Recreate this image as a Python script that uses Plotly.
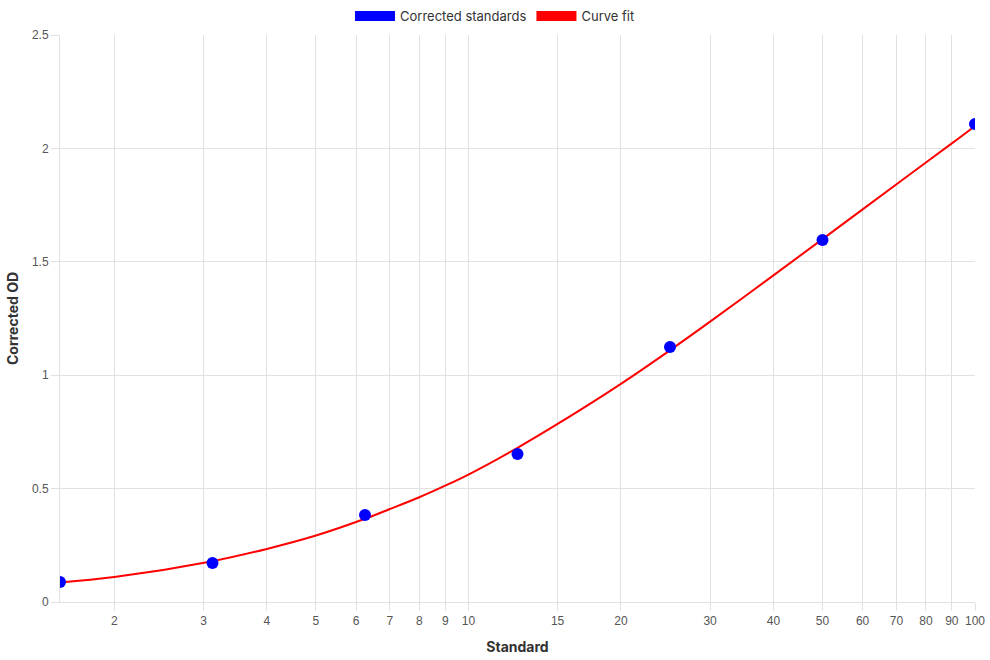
import plotly.graph_objects as go

# Data
std_x = [1.5625, 3.125, 6.25, 12.5, 25, 50, 100]
std_y = [0.088, 0.172, 0.384, 0.653, 1.124, 1.596, 2.108]

fit_x = [1.5625, 2, 3.125, 4, 5, 6.25, 7, 8, 9, 10, 12.5, 15, 20, 25, 30, 40, 50, 60, 70, 80, 90, 100]
fit_y = [0.086, 0.110, 0.180, 0.234, 0.293, 0.367, 0.410, 0.462, 0.513, 0.562, 0.680, 0.785, 0.962,
         1.110, 1.236, 1.440, 1.600, 1.731, 1.842, 1.938, 2.022, 2.099]

x_ticks = [2, 3, 4, 5, 6, 7, 8, 9, 10, 15, 20, 30, 40, 50, 60, 70, 80, 90, 100]
y_ticks = [0, 0.5, 1, 1.5, 2, 2.5]

grid = "#e1e1e1"
tick_font = dict(family="Liberation Sans, Arial, sans-serif", size=12, color="#555555")
title_font = dict(family="Inter, Open Sans, sans-serif", size=14, color="#333333")

fig = go.Figure()
fig.add_trace(go.Scatter(x=fit_x, y=fit_y, mode="lines", line=dict(color="red", width=2, shape="spline"),
                         showlegend=False, hoverinfo="skip"))
fig.add_trace(go.Scatter(x=std_x, y=std_y, mode="markers", marker=dict(color="blue", size=12),
                         showlegend=False))
# legend entries (box style)
fig.add_trace(go.Scatter(x=[None], y=[None], mode="lines", name="Corrected standards",
                         line=dict(color="blue", width=12)))
fig.add_trace(go.Scatter(x=[None], y=[None], mode="lines", name="Curve fit",
                         line=dict(color="red", width=12)))

fig.update_layout(
    width=990, height=660,
    margin=dict(l=60, r=15, t=35, b=58, autoexpand=False),
    paper_bgcolor="white", plot_bgcolor="white",
    legend=dict(orientation="h", x=0.5, xanchor="center", xref="container",
                y=1 - 16 / 660, yanchor="middle", yref="container",
                font=dict(family="Inter, Open Sans, sans-serif", size=13, color="#333333"),
                itemwidth=40, tracegroupgap=0),
)
fig.update_xaxes(
    type="log", range=[0.19382, 2.0], automargin=False,
    tickvals=x_ticks, ticktext=[str(v) for v in x_ticks],
    showgrid=True, gridcolor=grid, gridwidth=1,
    ticks="outside", ticklen=8, tickcolor=grid,
    showline=True, linecolor=grid, linewidth=1,
    tickfont=tick_font,
    title=dict(text="<b>Standard</b>", font=title_font, standoff=14),
    zeroline=False,
)
fig.update_yaxes(
    range=[0, 2.5], automargin=False,
    tickvals=y_ticks, ticktext=["0", "0.5", "1", "1.5", "2", "2.5"],
    showgrid=True, gridcolor=grid, gridwidth=1,
    ticks="outside", ticklen=8, tickcolor=grid,
    showline=True, linecolor=grid, linewidth=1,
    tickfont=tick_font,
    title=dict(text="<b>Corrected OD</b>", font=title_font, standoff=10),
    zeroline=False,
)

fig.write_html("out.html")
